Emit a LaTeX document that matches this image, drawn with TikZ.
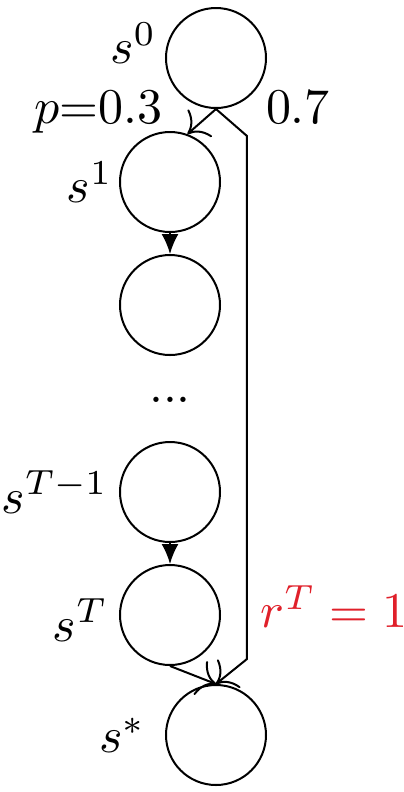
\documentclass[tikz,border=0pt]{standalone}
\usepackage{tikz}
\usetikzlibrary{arrows.meta, positioning, calc}
\definecolor{rewardRed}{HTML}{E0202A}

\begin{document}
\begin{tikzpicture}[
    node distance=24.6pt,
    on grid,
    state/.style={draw, circle, minimum size=20pt, inner sep=0pt},
    seq/.style={-{Latex[length=4pt,width=3.4pt]}},
    jump/.style={-{To[scale=1.4]}}
]
    \useasboundingbox (-43.2pt,11.6pt) rectangle (37.4pt,-146.8pt);

    \node[state, label={[label distance=-1.8pt, yshift=3pt]left:$s^0$}] (s0) at (0,0) {};
    \node[state, below left=24.8pt and 9.2pt of s0, label={[label distance=-2.3pt]left:$s^1$}] (s1) {};
    \node[state, below=of s1] (s2) {};
    \node[below=19pt of s2] (dots) {...};
    \node[state, below=37.4pt of s2, label={[label distance=-1.3pt]left:$s^{T-1}$}] (sTm1) {};
    \node[state, below=of sTm1, label={[label distance=-1.3pt, yshift=-1pt]left:$s^T$}] (sT) {};
    \node[state, below right=24pt and 9.2pt of sT, label={[label distance=0.3pt]left:$s^*$}] (sstar) {};

    \draw[seq] (s1) -- (s2);
    \draw[seq] (sTm1) -- (sT);

    \draw[jump] (s0.south) -- node[left=7.7pt, inner sep=0pt, yshift=1.9pt] {$p{=}0.3$} (s1.70);
    \draw[jump] (s0.south)
        -- node[pos=1, anchor=south west, inner sep=0pt, xshift=3.6pt, yshift=2.4pt] {$0.7$} ++(6.2pt,-5.4pt)
        -- node[pos=0.9, right, inner sep=2.5pt, text=rewardRed] {$r^T = 1$} ($(sstar.north)+(6.2pt,5pt)$)
        -- (sstar.north);
    \draw[jump] (sT.south) -- (sstar.north);
\end{tikzpicture}
\end{document}
